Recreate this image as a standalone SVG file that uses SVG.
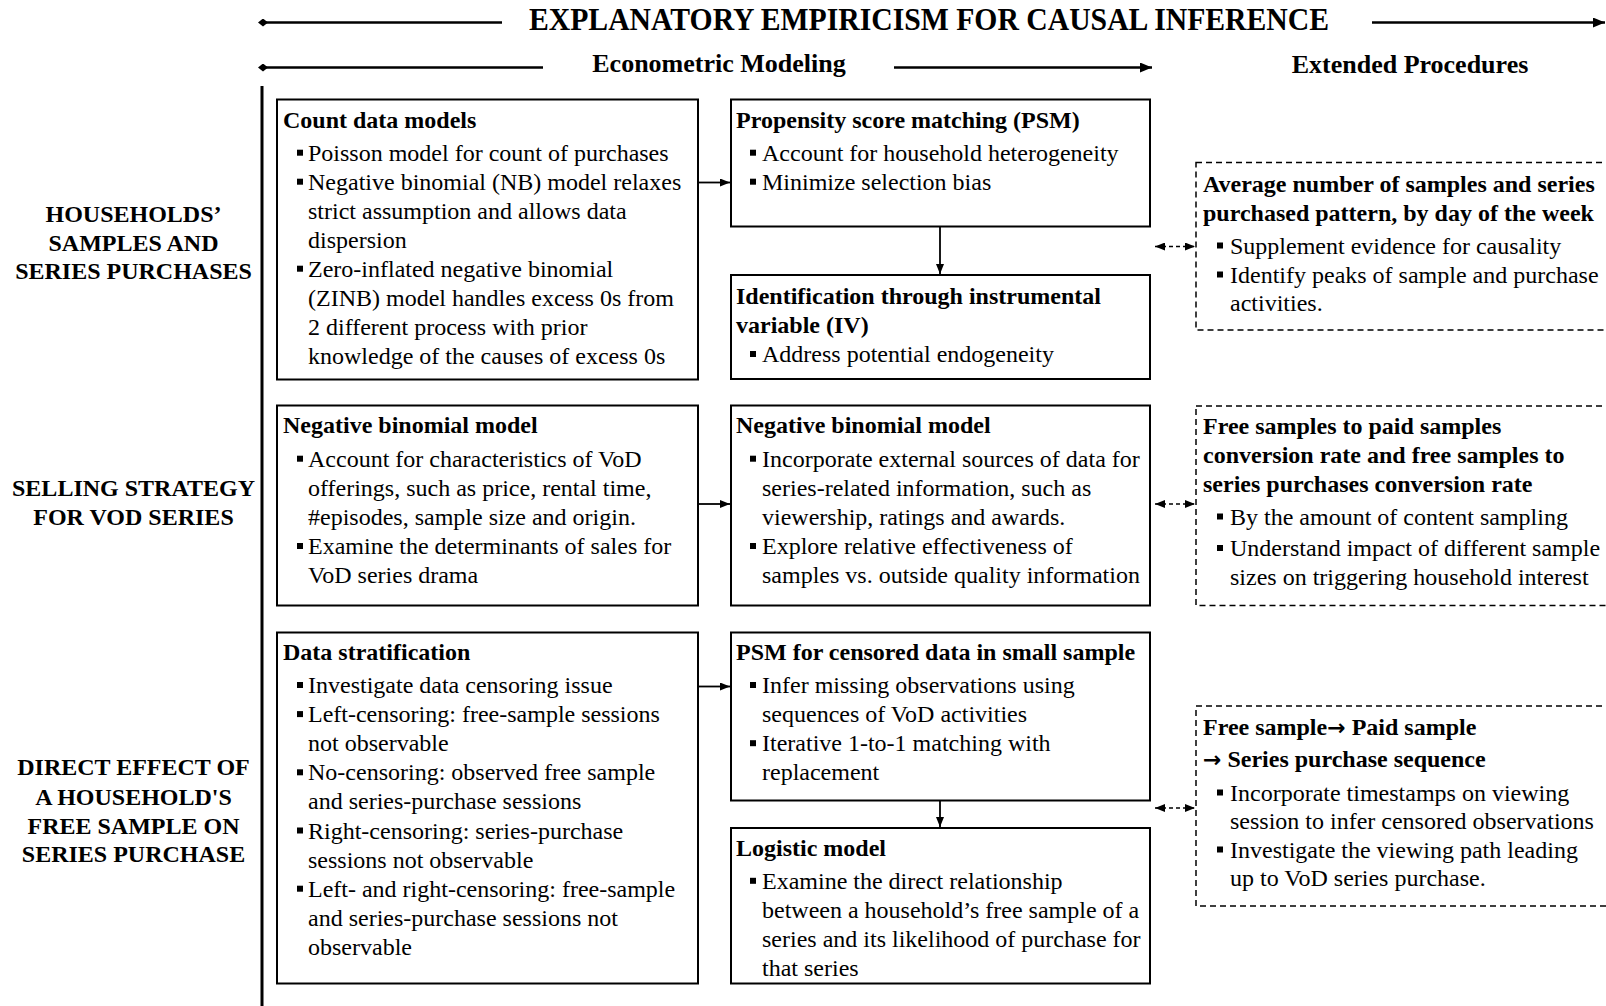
<svg xmlns="http://www.w3.org/2000/svg" xmlns:xlink="http://www.w3.org/1999/xlink" width="1606" height="1006" viewBox="0 0 1606 1006">
<style>
text{font-family:"Liberation Serif","Times New Roman",serif;font-size:24px;fill:#000}
.b{font-weight:bold}
.ttl{font-size:31px;font-weight:bold;text-anchor:middle}
.hd{font-size:26px;font-weight:bold}
.lbl{font-weight:bold;text-anchor:middle}
.ar{font-family:"DejaVu Sans",sans-serif;font-weight:bold;font-size:22px}
.box{fill:#fff;stroke:#000;stroke-width:2}
.dbox{fill:none;stroke:#000;stroke-width:1.5;stroke-dasharray:6 4}
.c{stroke:#000;stroke-width:1.8;fill:none}
.dc{stroke:#000;stroke-width:1.5;fill:none;stroke-dasharray:4 3}
.hl{stroke:#000;stroke-width:2.5;fill:none}
</style>
<defs>
<marker id="ah" markerUnits="userSpaceOnUse" markerWidth="10" markerHeight="8" refX="10" refY="4" orient="auto-start-reverse"><path d="M0,0 L10,4 L0,8 z" fill="#000"/></marker>
<marker id="ahb" markerUnits="userSpaceOnUse" markerWidth="12" markerHeight="10" refX="12" refY="5" orient="auto"><path d="M0,0 L12,5 L0,10 z" fill="#000"/></marker>
<marker id="dm" markerUnits="userSpaceOnUse" markerWidth="10" markerHeight="8" refX="5" refY="4" orient="auto"><path d="M0,4 L5,0 L10,4 L5,8 z" fill="#000"/></marker>
<rect id="bl" width="6" height="6" fill="#000"/>
</defs>
<rect width="1606" height="1006" fill="#fff"/>

<g id="header">
<line class="hl" x1="263" y1="22.5" x2="502" y2="22.5" marker-start="url(#dm)"/>
<line class="hl" x1="1372" y1="22.5" x2="1605" y2="22.5" marker-end="url(#ahb)"/>
<text class="ttl" x="929" y="30" textLength="800" lengthAdjust="spacingAndGlyphs">EXPLANATORY EMPIRICISM FOR CAUSAL INFERENCE</text>
<line class="hl" x1="263" y1="67.5" x2="543" y2="67.5" marker-start="url(#dm)"/>
<line class="hl" x1="894" y1="67.5" x2="1152" y2="67.5" marker-end="url(#ahb)"/>
<text class="hd" x="719" y="72" text-anchor="middle">Econometric Modeling</text>
<text class="hd" x="1410" y="73" text-anchor="middle">Extended Procedures</text>
<line x1="262" y1="86" x2="262" y2="1006" stroke="#000" stroke-width="3"/>
</g>

<g id="row-labels">
<text class="lbl" x="133.5" y="222">HOUSEHOLDS’</text>
<text class="lbl" x="133.5" y="250.7">SAMPLES AND</text>
<text class="lbl" x="133.5" y="279.4">SERIES PURCHASES</text>
<text class="lbl" x="133.5" y="495.5">SELLING STRATEGY</text>
<text class="lbl" x="133.5" y="525.2">FOR VOD SERIES</text>
<text class="lbl" x="133.5" y="775">DIRECT EFFECT OF</text>
<text class="lbl" x="133.5" y="804.8">A HOUSEHOLD'S</text>
<text class="lbl" x="133.5" y="833.5">FREE SAMPLE ON</text>
<text class="lbl" x="133.5" y="862.2">SERIES PURCHASE</text>
</g>

<g id="connectors">
<line class="c" x1="698" y1="182.5" x2="730" y2="182.5" marker-end="url(#ah)"/>
<line class="c" x1="940" y1="227" x2="940" y2="274" marker-end="url(#ah)"/>
<line class="c" x1="698" y1="504" x2="730" y2="504" marker-end="url(#ah)"/>
<line class="c" x1="698" y1="686.5" x2="730" y2="686.5" marker-end="url(#ah)"/>
<line class="c" x1="940" y1="801" x2="940" y2="827" marker-end="url(#ah)"/>
<line class="dc" x1="1155" y1="246.5" x2="1195" y2="246.5" marker-start="url(#ah)" marker-end="url(#ah)"/>
<line class="dc" x1="1155" y1="504" x2="1195" y2="504" marker-start="url(#ah)" marker-end="url(#ah)"/>
<line class="dc" x1="1155" y1="808" x2="1195" y2="808" marker-start="url(#ah)" marker-end="url(#ah)"/>
</g>

<g id="count-data-models">
<rect class="box" x="277" y="99.5" width="421" height="280"/>
<text class="b" x="283" y="127.5">Count data models</text>
<use href="#bl" x="297" y="149.7"/><use href="#bl" x="297" y="178.7"/><use href="#bl" x="297" y="265.7"/>
<text><tspan x="308" y="160.7">Poisson model for count of purchases</tspan><tspan x="308" y="189.7">Negative binomial (NB) model relaxes</tspan><tspan x="308" y="218.7">strict assumption and allows data</tspan><tspan x="308" y="247.7">dispersion</tspan><tspan x="308" y="276.7">Zero-inflated negative binomial</tspan><tspan x="308" y="305.7">(ZINB) model handles excess 0s from</tspan><tspan x="308" y="334.7">2 different process with prior</tspan><tspan x="308" y="363.7">knowledge of the causes of excess 0s</tspan></text>
</g>

<g id="psm">
<rect class="box" x="731" y="99.5" width="419" height="127"/>
<text class="b" x="736" y="127.5">Propensity score matching (PSM)</text>
<use href="#bl" x="750" y="149.7"/><use href="#bl" x="750" y="178.7"/>
<text><tspan x="762" y="160.7">Account for household heterogeneity</tspan><tspan x="762" y="189.7">Minimize selection bias</tspan></text>
</g>

<g id="iv">
<rect class="box" x="731" y="275" width="419" height="104"/>
<text class="b"><tspan x="736" y="304">Identification through instrumental</tspan><tspan x="736" y="333">variable (IV)</tspan></text>
<use href="#bl" x="750" y="351"/>
<text x="762" y="362">Address potential endogeneity</text>
</g>

<g id="day-of-week">
<rect class="dbox" x="1196" y="162.5" width="430" height="167.5"/>
<text class="b"><tspan x="1203" y="191.5">Average number of samples and series</tspan><tspan x="1203" y="221">purchased pattern, by day of the week</tspan></text>
<use href="#bl" x="1217" y="242.5"/><use href="#bl" x="1217" y="271.5"/>
<text><tspan x="1230" y="253.5">Supplement evidence for causality</tspan><tspan x="1230" y="282.5">Identify peaks of sample and purchase</tspan><tspan x="1230" y="311">activities.</tspan></text>
</g>

<g id="nb-model-1">
<rect class="box" x="277" y="405.5" width="421" height="200"/>
<text class="b" x="283" y="433">Negative binomial model</text>
<use href="#bl" x="297" y="455.7"/><use href="#bl" x="297" y="543"/>
<text><tspan x="308" y="466.7">Account for characteristics of VoD</tspan><tspan x="308" y="495.8">offerings, such as price, rental time,</tspan><tspan x="308" y="524.9">#episodes, sample size and origin.</tspan><tspan x="308" y="554">Examine the determinants of sales for</tspan><tspan x="308" y="583.1">VoD series drama</tspan></text>
</g>

<g id="nb-model-2">
<rect class="box" x="731" y="405.5" width="419" height="200"/>
<text class="b" x="736" y="433">Negative binomial model</text>
<use href="#bl" x="750" y="455.7"/><use href="#bl" x="750" y="543"/>
<text><tspan x="762" y="466.7">Incorporate external sources of data for</tspan><tspan x="762" y="495.8">series-related information, such as</tspan><tspan x="762" y="524.9">viewership, ratings and awards.</tspan><tspan x="762" y="554">Explore relative effectiveness of</tspan><tspan x="762" y="583.1">samples vs. outside quality information</tspan></text>
</g>

<g id="conversion-rate">
<rect class="dbox" x="1196" y="406" width="430" height="199.5"/>
<text class="b"><tspan x="1203" y="434">Free samples to paid samples</tspan><tspan x="1203" y="463">conversion rate and free samples to</tspan><tspan x="1203" y="492">series purchases conversion rate</tspan></text>
<use href="#bl" x="1217" y="513.5"/><use href="#bl" x="1217" y="545"/>
<text><tspan x="1230" y="524.5">By the amount of content sampling</tspan><tspan x="1230" y="556">Understand impact of different sample</tspan><tspan x="1230" y="584.5">sizes on triggering household interest</tspan></text>
</g>

<g id="data-stratification">
<rect class="box" x="277" y="632.5" width="421" height="351"/>
<text class="b" x="283" y="660">Data stratification</text>
<use href="#bl" x="297" y="682"/><use href="#bl" x="297" y="711.1"/><use href="#bl" x="297" y="769.3"/><use href="#bl" x="297" y="827.5"/><use href="#bl" x="297" y="885.7"/>
<text><tspan x="308" y="693">Investigate data censoring issue</tspan><tspan x="308" y="722.1">Left-censoring: free-sample sessions</tspan><tspan x="308" y="751.2">not observable</tspan><tspan x="308" y="780.3">No-censoring: observed free sample</tspan><tspan x="308" y="809.4">and series-purchase sessions</tspan><tspan x="308" y="838.5">Right-censoring: series-purchase</tspan><tspan x="308" y="867.6">sessions not observable</tspan><tspan x="308" y="896.7">Left- and right-censoring: free-sample</tspan><tspan x="308" y="925.8">and series-purchase sessions not</tspan><tspan x="308" y="954.9">observable</tspan></text>
</g>

<g id="psm-censored">
<rect class="box" x="731" y="632.5" width="419" height="168"/>
<text class="b" x="736" y="660">PSM for censored data in small sample</text>
<use href="#bl" x="750" y="682"/><use href="#bl" x="750" y="740.2"/>
<text><tspan x="762" y="693">Infer missing observations using</tspan><tspan x="762" y="722.1">sequences of VoD activities</tspan><tspan x="762" y="751.2">Iterative 1-to-1 matching with</tspan><tspan x="762" y="780.3">replacement</tspan></text>
</g>

<g id="logistic-model">
<rect class="box" x="731" y="828" width="419" height="155.5"/>
<text class="b" x="736" y="856">Logistic model</text>
<use href="#bl" x="750" y="877.8"/>
<text><tspan x="762" y="888.8">Examine the direct relationship</tspan><tspan x="762" y="917.9">between a household’s free sample of a</tspan><tspan x="762" y="947">series and its likelihood of purchase for</tspan><tspan x="762" y="976.1">that series</tspan></text>
</g>

<g id="purchase-sequence">
<rect class="dbox" x="1196" y="706" width="430" height="200"/>
<text class="b"><tspan x="1203" y="735">Free sample<tspan class="ar">→</tspan> Paid sample</tspan><tspan x="1203" y="767"><tspan class="ar">→</tspan> Series purchase sequence</tspan></text>
<use href="#bl" x="1217" y="789.5"/><use href="#bl" x="1217" y="846.5"/>
<text><tspan x="1230" y="800.5">Incorporate timestamps on viewing</tspan><tspan x="1230" y="829">session to infer censored observations</tspan><tspan x="1230" y="857.5">Investigate the viewing path leading</tspan><tspan x="1230" y="886.2">up to VoD series purchase.</tspan></text>
</g>
</svg>
